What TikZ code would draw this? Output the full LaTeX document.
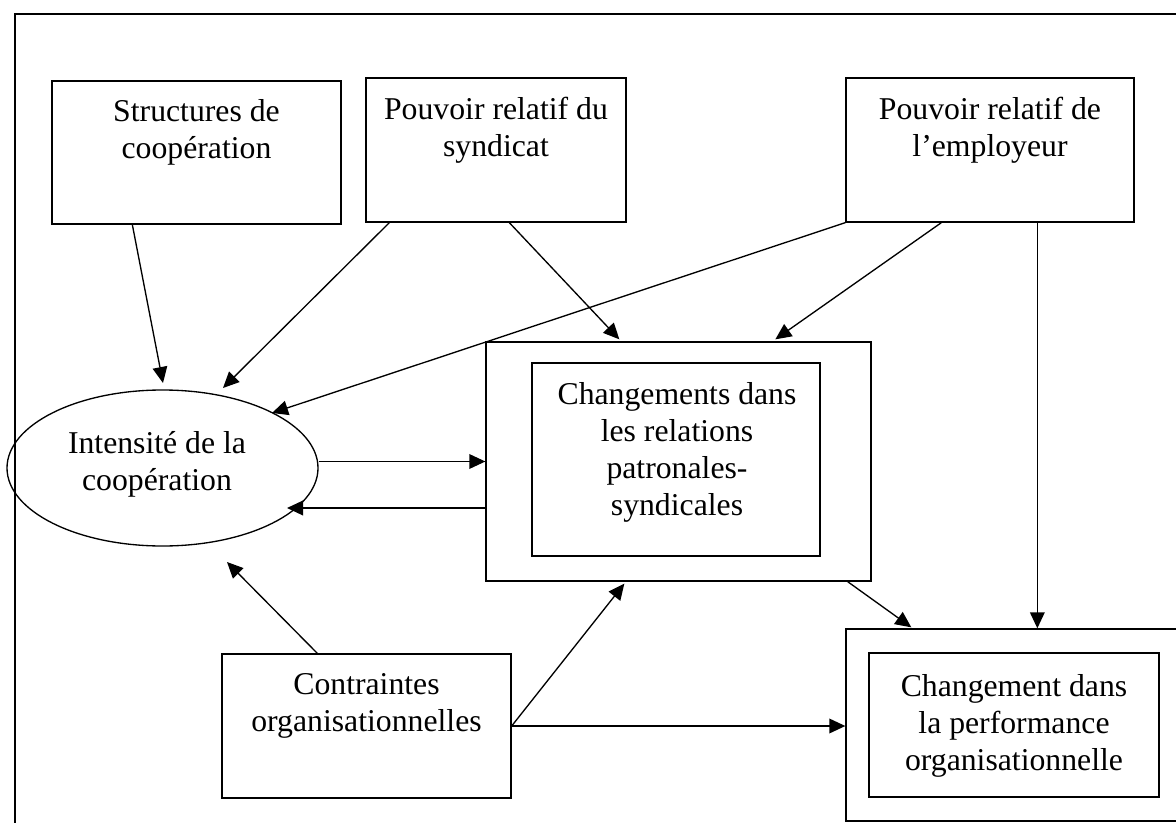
\documentclass[tikz,border=0pt]{standalone}
\usepackage{fontspec}
\setmainfont{Liberation Serif}
\usetikzlibrary{arrows.meta,calc,shapes.geometric}
\tikzset{
  bx/.style n args={2}{draw, line width=1pt, inner sep=0pt, minimum width=#1*0.75pt, minimum height=#2*0.75pt},
  txt/.style={inner sep=0pt, align=center, anchor=north, font=\fontsize{23.8}{27.75}\selectfont},
  arr/.style={line width=1pt, -{Triangle[length=12pt,width=11pt]}},
  frm/.style={line width=1.4pt}
}
\begin{document}
\begin{tikzpicture}[x=0.75pt,y=-0.75pt]
\useasboundingbox (0,0) rectangle (1176,823);
\clip (0,0) rectangle (1176,823);
\draw[frm] (15,830) -- (15,14) -- (1180,14);
% boxes
\node[bx={289}{143}] (S) at (196.5,152.5) {};
\node[bx={260}{144}] (PS) at (496,150) {};
\node[bx={288}{144}] (PE) at (990,150) {};
\node[draw, ellipse, line width=1pt, inner sep=0pt, minimum width=311*0.75pt, minimum height=156*0.75pt] (E) at (162.5,468) {};
\node[bx={385}{239}] (Co) at (678.5,461.5) {};
\node[bx={288}{193}] (Ci) at (676,459.5) {};
\node[bx={289}{144}] (K) at (366.5,726) {};
\node[bx={354}{192}] (Po) at (1023,725) {};
\node[bx={290}{144}] (Pi) at (1014,725) {};
% texts
\node[txt] (tS) at (196.5,99) {Structures de\\coopération};
\node[txt] (tPS) at (496,97) {Pouvoir relatif du\\syndicat};
\node[txt] (tPE) at (990,97) {Pouvoir relatif de\\l’employeur};
\node[txt] (tE) at (157,431) {Intensité de la\\coopération};
\node[txt] (tC) at (677,382) {Changements dans\\les relations\\patronales-\\syndicales};
\node[txt] (tK) at (366.5,673) {Contraintes\\organisationnelles};
\node[txt] (tP) at (1014,674) {Changement dans\\la performance\\organisationnelle};
% connectors
\draw[arr] ($(S.south west)+(81,0)$) -- ($(E.center)+(0.5,-85)$);
\draw[arr] ($(PS.south west)+(24,0)$) -- ($(E.center)+(60.5,-80)$);
\draw[arr] (PE.south west) -- ($(E.center)+(109.5,-55)$);
\draw[arr] ($(PS.south west)+(144,0)$) -- ($(Co.north west)+(134,-2)$);
\draw[arr] ($(PE.south west)+(96,0)$) -- ($(Co.north west)+(290,-2)$);
\draw[arr] ($(PE.south west)+(192,0)$) -- ($(Po.north west)+(192,0)$);
\draw[arr] (E.east |- Co.west) -- (Co.west);
\draw[arr] ($(Co.west)+(0,46.5)$) -- ($(E.center)+(124.5,40)$);
\draw[arr] ($(K.north west)+(96,0)$) -- ($(E.center)+(64.5,94)$);
\draw[arr] (K.east) -- ($(Co.south west)+(139,2)$);
\draw[arr] (K.east) -- (K.east -| Po.west);
\draw[arr] ($(Co.south east)+(-24,0)$) -- ($(Po.north west)+(66,-1)$);
\end{tikzpicture}
\end{document}
